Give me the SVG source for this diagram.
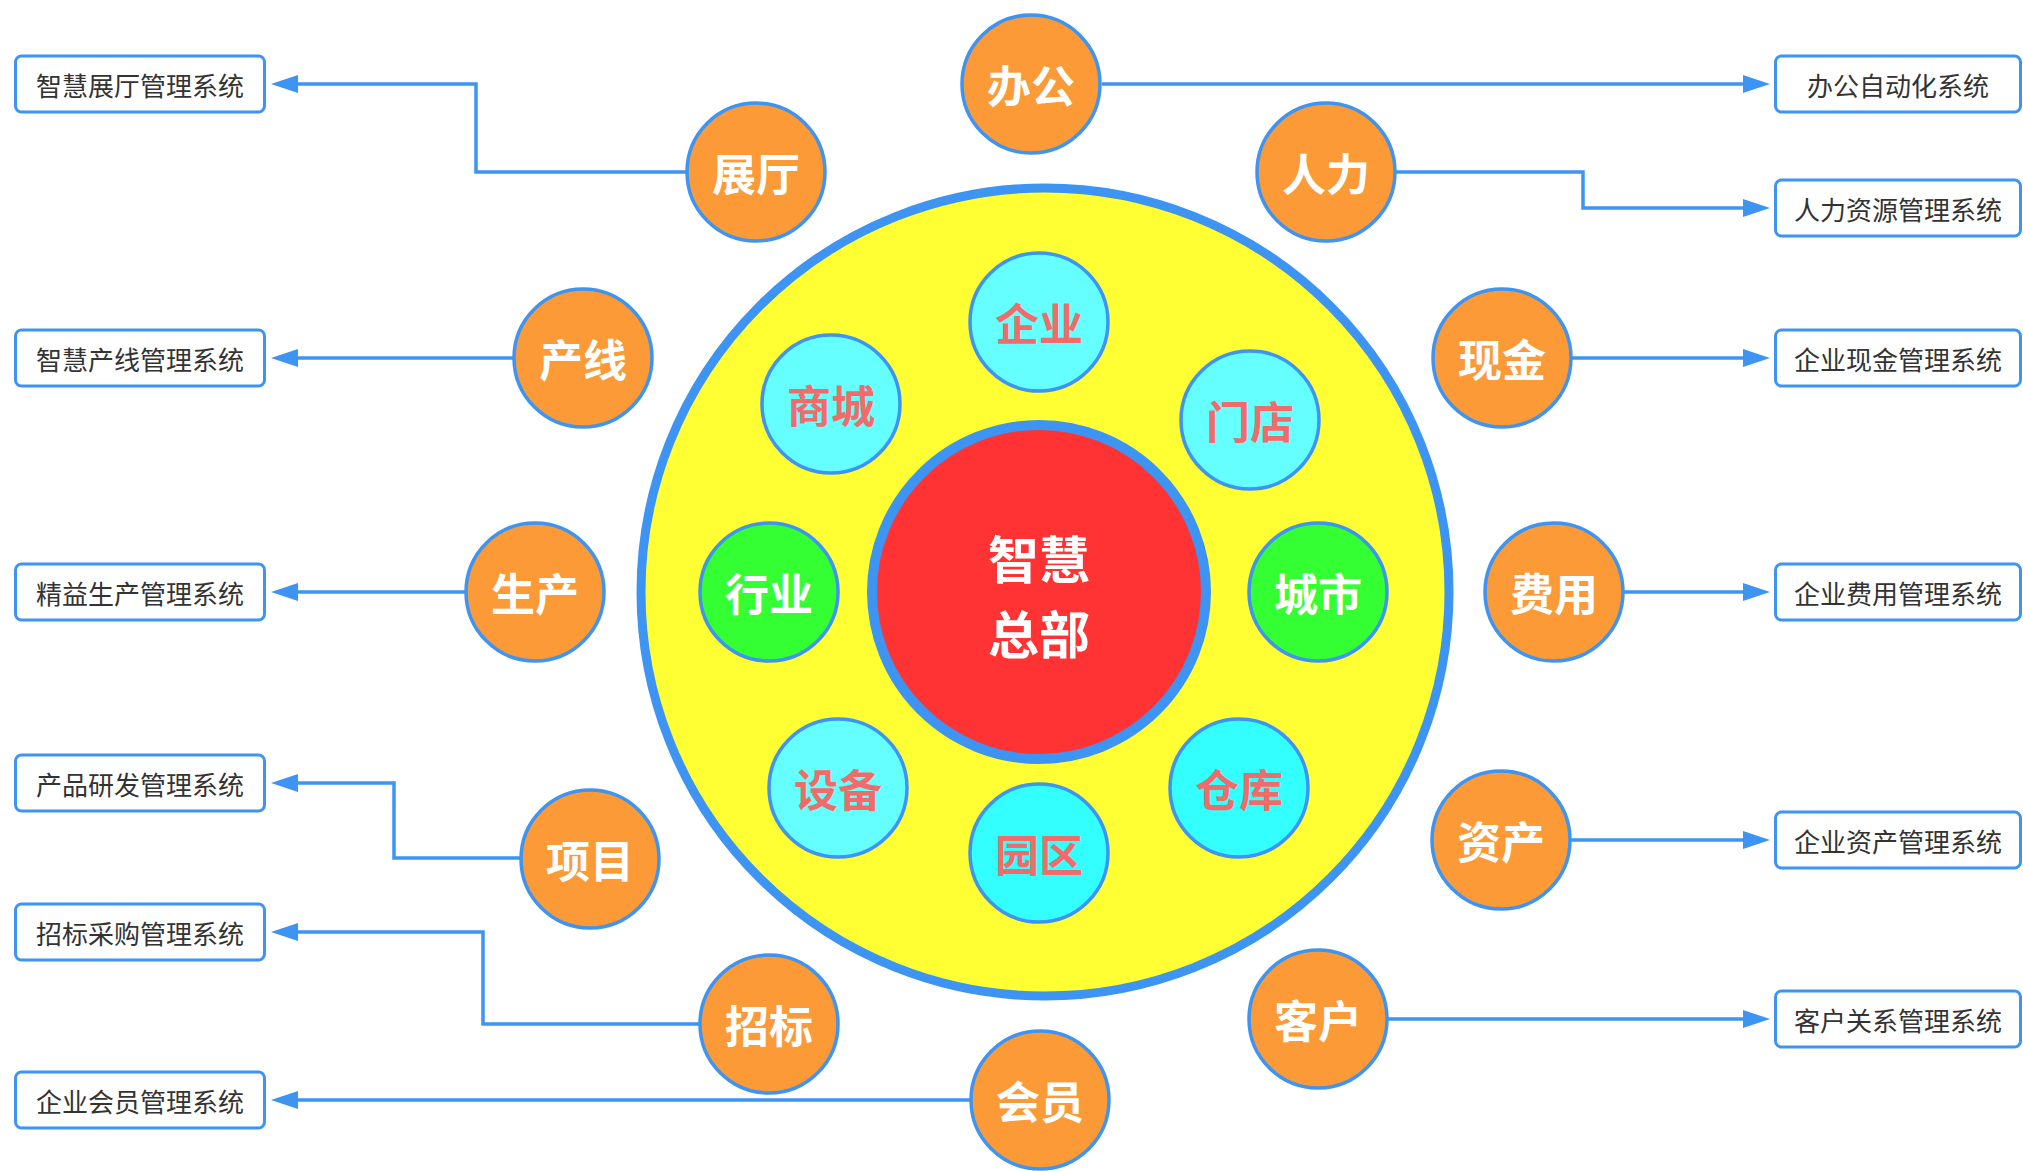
<svg xmlns="http://www.w3.org/2000/svg" width="2023" height="1171" viewBox="0 0 2023 1171">
<style>
.o{fill:#fb9a36;stroke:#3d94f2;stroke-width:3.5}
.c1{fill:#66ffff;stroke:#3d94f2;stroke-width:3.5}
.c2{fill:#33ffff;stroke:#3d94f2;stroke-width:3.5}
.g{fill:#33ff33;stroke:#3d94f2;stroke-width:3.5}
.box{fill:#ffffff;stroke:#3d94f2;stroke-width:3}
.lb{font-family:"Noto Sans CJK SC","Noto Sans",sans-serif;font-size:44px;font-weight:bold;text-anchor:middle;dominant-baseline:central}
.w{fill:#ffffff}
.r{fill:#f26b6b}
.bt{font-family:"Noto Sans CJK SC","Noto Sans",sans-serif;font-size:26px;fill:#333333;text-anchor:middle;dominant-baseline:central}
.cn{fill:none;stroke:#3d94f2;stroke-width:3.5;marker-end:url(#ah)}
</style>
<defs>
<marker id="ah" markerUnits="userSpaceOnUse" markerWidth="28" markerHeight="20" refX="0" refY="10" orient="auto">
<path d="M0,1 L27,10 L0,19 z" fill="#3d94f2"/>
</marker>
</defs>
<rect width="2023" height="1171" fill="#ffffff"/>

<g id="hub">
<circle cx="1045" cy="592" r="404" fill="#ffff33" stroke="#3d94f2" stroke-width="9"/>
</g>
<g id="center">
<circle cx="1039" cy="592" r="167" fill="#ff3333" stroke="#3d94f2" stroke-width="10"/>
<text class="lb w" style="font-size:51px"><tspan x="1039" y="557">智慧</tspan><tspan x="1039" y="632">总部</tspan></text>
</g>

<g id="connectors">
<path class="cn" d="M1102,84 H1743"/>
<path class="cn" d="M1396,172 H1583 V208 H1743"/>
<path class="cn" d="M1571,358 H1743"/>
<path class="cn" d="M1623,592 H1743"/>
<path class="cn" d="M1571,840 H1743"/>
<path class="cn" d="M1388,1019 H1743"/>
<path class="cn" d="M686,172 H476 V84 H298"/>
<path class="cn" d="M514,358 H298"/>
<path class="cn" d="M465,592 H298"/>
<path class="cn" d="M521,858 H394 V783 H298"/>
<path class="cn" d="M700,1024 H483 V932 H298"/>
<path class="cn" d="M970,1100 H298"/>
</g>

<g id="n-qiye"><circle class="c1" cx="1039" cy="322" r="69"/><text class="lb r" x="1039" y="322">企业</text></g>
<g id="n-shangcheng"><circle class="c1" cx="831" cy="404" r="69"/><text class="lb r" x="831" y="404">商城</text></g>
<g id="n-mendian"><circle class="c1" cx="1250" cy="420" r="69"/><text class="lb r" x="1250" y="420">门店</text></g>
<g id="n-hangye"><circle class="g" cx="769" cy="592" r="69"/><text class="lb w" x="769" y="592">行业</text></g>
<g id="n-chengshi"><circle class="g" cx="1318" cy="592" r="69"/><text class="lb w" x="1318" y="592">城市</text></g>
<g id="n-shebei"><circle class="c1" cx="838" cy="788" r="69"/><text class="lb r" x="838" y="788">设备</text></g>
<g id="n-cangku"><circle class="c2" cx="1239" cy="788" r="69"/><text class="lb r" x="1239" y="788">仓库</text></g>
<g id="n-yuanqu"><circle class="c2" cx="1039" cy="853" r="69"/><text class="lb r" x="1039" y="853">园区</text></g>

<g id="n-bangong"><circle class="o" cx="1031" cy="84" r="69"/><text class="lb w" x="1031" y="84">办公</text></g>
<g id="n-zhanting"><circle class="o" cx="756" cy="172" r="69"/><text class="lb w" x="756" y="172">展厅</text></g>
<g id="n-renli"><circle class="o" cx="1326" cy="172" r="69"/><text class="lb w" x="1326" y="172">人力</text></g>
<g id="n-chanxian"><circle class="o" cx="583" cy="358" r="69"/><text class="lb w" x="583" y="358">产线</text></g>
<g id="n-xianjin"><circle class="o" cx="1502" cy="358" r="69"/><text class="lb w" x="1502" y="358">现金</text></g>
<g id="n-shengchan"><circle class="o" cx="535" cy="592" r="69"/><text class="lb w" x="535" y="592">生产</text></g>
<g id="n-feiyong"><circle class="o" cx="1554" cy="592" r="69"/><text class="lb w" x="1554" y="592">费用</text></g>
<g id="n-xiangmu"><circle class="o" cx="590" cy="859" r="69"/><text class="lb w" x="590" y="859">项目</text></g>
<g id="n-zichan"><circle class="o" cx="1501" cy="840" r="69"/><text class="lb w" x="1501" y="840">资产</text></g>
<g id="n-zhaobiao"><circle class="o" cx="769" cy="1024" r="69"/><text class="lb w" x="769" y="1024">招标</text></g>
<g id="n-kehu"><circle class="o" cx="1318" cy="1019" r="69"/><text class="lb w" x="1318" y="1019">客户</text></g>
<g id="n-huiyuan"><circle class="o" cx="1040" cy="1100" r="69"/><text class="lb w" x="1040" y="1100">会员</text></g>

<g id="b-zhanting"><rect class="box" x="15.5" y="56" width="249" height="56" rx="6"/><text class="bt" x="140" y="84">智慧展厅管理系统</text></g>
<g id="b-chanxian"><rect class="box" x="15.5" y="330" width="249" height="56" rx="6"/><text class="bt" x="140" y="358">智慧产线管理系统</text></g>
<g id="b-shengchan"><rect class="box" x="15.5" y="564" width="249" height="56" rx="6"/><text class="bt" x="140" y="592">精益生产管理系统</text></g>
<g id="b-xiangmu"><rect class="box" x="15.5" y="755" width="249" height="56" rx="6"/><text class="bt" x="140" y="783">产品研发管理系统</text></g>
<g id="b-zhaobiao"><rect class="box" x="15.5" y="904" width="249" height="56" rx="6"/><text class="bt" x="140" y="932">招标采购管理系统</text></g>
<g id="b-huiyuan"><rect class="box" x="15.5" y="1072" width="249" height="56" rx="6"/><text class="bt" x="140" y="1100">企业会员管理系统</text></g>

<g id="b-bangong"><rect class="box" x="1775.5" y="56" width="245" height="56" rx="6"/><text class="bt" x="1898" y="84">办公自动化系统</text></g>
<g id="b-renli"><rect class="box" x="1775.5" y="180" width="245" height="56" rx="6"/><text class="bt" x="1898" y="208">人力资源管理系统</text></g>
<g id="b-xianjin"><rect class="box" x="1775.5" y="330" width="245" height="56" rx="6"/><text class="bt" x="1898" y="358">企业现金管理系统</text></g>
<g id="b-feiyong"><rect class="box" x="1775.5" y="564" width="245" height="56" rx="6"/><text class="bt" x="1898" y="592">企业费用管理系统</text></g>
<g id="b-zichan"><rect class="box" x="1775.5" y="812" width="245" height="56" rx="6"/><text class="bt" x="1898" y="840">企业资产管理系统</text></g>
<g id="b-kehu"><rect class="box" x="1775.5" y="991" width="245" height="56" rx="6"/><text class="bt" x="1898" y="1019">客户关系管理系统</text></g>
</svg>
